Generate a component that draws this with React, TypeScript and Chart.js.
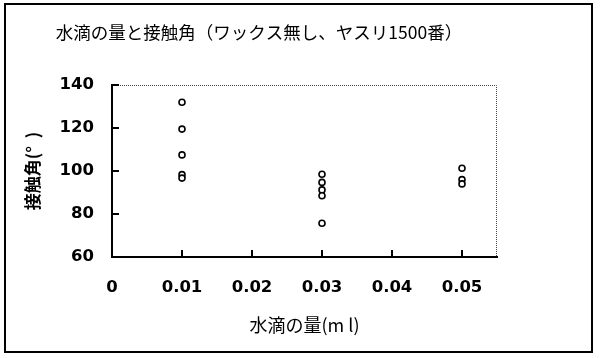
import React, { useEffect, useRef } from "react";
import { Chart, registerables } from "chart.js";

Chart.register(...registerables);

const TITLE = "水滴の量と接触角（ワックス無し、ヤスリ1500番）";
const X_TITLE = "水滴の量(m l)";
const Y_TITLE = "接触角(°  )";

const xGroups = [0.01, 0.03, 0.05];
const angles001 = [132, 119.5, 107.5, 98.3, 96.7];
const angles003 = [98.5, 94.7, 91.2, 88.5, 75.7];
const angles005 = [101.3, 96, 94];

const X_MIN = 0;
const X_MAX = 0.055;
const X_STEP = 0.01;
const Y_MIN = 60;
const Y_MAX = 140;
const Y_STEP = 20;

const groups = [angles001, angles003, angles005];
const points = groups.flatMap((arr, gi) => arr.map((y) => ({ x: xGroups[gi], y })));

const TICK_FONT = { family: '"DejaVu Sans"', size: 16.5, weight: "bold" as const };

const framePlugin = {
  id: "frame",
  beforeDraw(chart: any) {
    const { ctx, width, height } = chart;
    ctx.save();
    ctx.fillStyle = "#fff";
    ctx.fillRect(0, 0, width, height);
    ctx.restore();
  },
  afterDraw(chart: any) {
    const { ctx, chartArea: a, scales } = chart;
    ctx.save();
    // dotted top/right border of plot area
    ctx.strokeStyle = "#444";
    ctx.lineWidth = 1;
    ctx.setLineDash([1, 1]);
    ctx.beginPath();
    ctx.moveTo(a.left, a.top + 0.5);
    ctx.lineTo(a.right - 0.5, a.top + 0.5);
    ctx.lineTo(a.right - 0.5, a.bottom);
    ctx.stroke();
    ctx.setLineDash([]);
    // inner tick marks
    ctx.strokeStyle = "#000";
    ctx.lineWidth = 2;
    const xs = scales.x;
    xs.ticks.forEach((_t: any, i: number) => {
      const px = Math.round(xs.getPixelForTick(i));
      ctx.beginPath();
      ctx.moveTo(px, a.bottom);
      ctx.lineTo(px, a.bottom - 7);
      ctx.stroke();
    });
    const ys = scales.y;
    ys.ticks.forEach((_t: any, i: number) => {
      const py = Math.round(ys.getPixelForTick(i));
      ctx.beginPath();
      ctx.moveTo(a.left, py);
      ctx.lineTo(a.left + 7, py);
      ctx.stroke();
    });
    // outer frame
    ctx.lineWidth = 2;
    ctx.strokeRect(5, 4, 587, 348);
    // title
    ctx.fillStyle = "#000";
    ctx.font = '17.5px "Noto Sans CJK JP"';
    ctx.textAlign = "center";
    ctx.textBaseline = "middle";
    ctx.fillText(TITLE, 259, 32);
    ctx.restore();
  },
};

export default function App() {
  const ref = useRef<HTMLCanvasElement>(null);
  useEffect(() => {
    if (!ref.current) return;
    const chart = new Chart(ref.current, {
      type: "scatter",
      data: {
        datasets: [
          {
            data: points,
            pointRadius: 3,
            pointBorderWidth: 1.6,
            pointBorderColor: "#000",
            pointBackgroundColor: "#fff",
            showLine: false,
          },
        ],
      },
      options: {
        responsive: false,
        animation: false,
        layout: { padding: { top: 85, right: 103, left: 0, bottom: 0 } },
        plugins: { legend: { display: false }, tooltip: { enabled: false }, title: { display: false } },
        scales: {
          x: {
            type: "linear",
            min: X_MIN,
            max: X_MAX,
            afterFit: (s: any) => {
              s.height = 101;
            },
            ticks: {
              stepSize: X_STEP,
              includeBounds: false,
              padding: 21,
              color: "#000",
              font: TICK_FONT,
              callback: (v: any) => String(Number(Number(v).toFixed(3))),
              maxRotation: 0,
            },
            grid: { drawOnChartArea: false, drawTicks: false },
            border: { display: true, color: "#000", width: 2 },
            title: {
              display: true,
              text: X_TITLE,
              color: "#000",
              font: { family: '"Noto Sans CJK JP"', size: 18 },
              padding: { top: 0, bottom: 22 },
            },
          },
          y: {
            type: "linear",
            min: Y_MIN,
            max: Y_MAX,
            afterFit: (s: any) => {
              s.width = 112;
            },
            ticks: {
              stepSize: Y_STEP,
              padding: 18,
              color: "#000",
              font: TICK_FONT,
            },
            grid: { drawOnChartArea: false, drawTicks: false },
            border: { display: true, color: "#000", width: 2 },
            title: {
              display: true,
              text: Y_TITLE,
              color: "#000",
              font: { family: '"Noto Sans CJK JP"', size: 17, weight: "bold" },
              padding: { top: 22, bottom: 0 },
            },
          },
        },
      },
      plugins: [framePlugin],
    });
    return () => chart.destroy();
  }, []);
  return (
    <div style={{ position: "absolute", left: 0, top: 0, width: 600, height: 358 }}>
      <canvas ref={ref} width={600} height={358} />
    </div>
  );
}
